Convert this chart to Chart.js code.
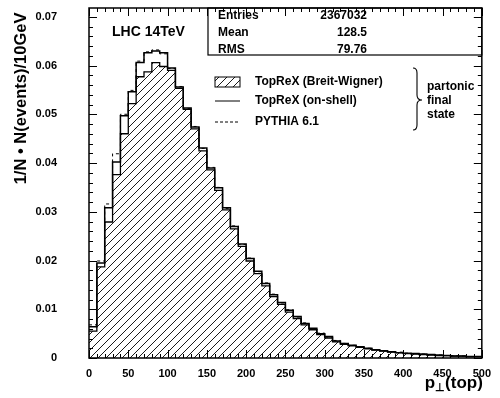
<!DOCTYPE html>
<html>
<head>
<meta charset="utf-8">
<script src="https://cdn.jsdelivr.net/npm/chart.js@4/dist/chart.umd.min.js"></script>
<style>
  html, body { margin: 0; padding: 0; background: #fff; }
  #wrap { width: 500px; height: 398px; }
</style>
</head>
<body>
<div id="wrap"><canvas id="ptChart"></canvas></div>
<script>
// lower edges of the 10 GeV bins, histogram ends at 500
const binLow = [0, 10, 20, 30, 40, 50, 60, 70, 80, 90,
  100, 110, 120, 130, 140, 150, 160, 170, 180, 190,
  200, 210, 220, 230, 240, 250, 260, 270, 280, 290,
  300, 310, 320, 330, 340, 350, 360, 370, 380, 390,
  400, 410, 420, 430, 440, 450, 460, 470, 480, 490];
const histEnd = 500;

// TopReX (Breit-Wigner), hatched
const breitWigner = [0.0055, 0.0187, 0.0279, 0.0376, 0.0460, 0.0522, 0.0577, 0.0587, 0.0606, 0.0598,
  0.0590, 0.0553, 0.0510, 0.0470, 0.0425, 0.0386, 0.0344, 0.0304, 0.0265, 0.0229,
  0.0199, 0.0173, 0.0148, 0.0126, 0.0110, 0.0094, 0.0081, 0.0068, 0.0058, 0.0048,
  0.0041, 0.0033, 0.0028, 0.0025, 0.0022, 0.0019, 0.0016, 0.0014, 0.0012, 0.0011,
  0.0009, 0.0008, 0.0007, 0.0006, 0.0005, 0.0005, 0.0004, 0.0004, 0.0003, 0.0003];

// TopReX (on-shell), solid
const onShell = [0.0064, 0.0195, 0.0308, 0.0402, 0.0497, 0.0546, 0.0606, 0.0626, 0.0630, 0.0626,
  0.0595, 0.0556, 0.0513, 0.0474, 0.0431, 0.0390, 0.0349, 0.0308, 0.0270, 0.0234,
  0.0204, 0.0178, 0.0153, 0.0130, 0.0114, 0.0098, 0.0085, 0.0071, 0.0061, 0.0050,
  0.0044, 0.0035, 0.0030, 0.0026, 0.0023, 0.0020, 0.0017, 0.0015, 0.0013, 0.0011,
  0.0010, 0.0009, 0.0008, 0.0007, 0.0006, 0.0005, 0.0004, 0.0004, 0.0003, 0.0003];

// PYTHIA 6.1, dashed
const pythia = [0.0068, 0.0199, 0.0316, 0.0419, 0.0500, 0.0549, 0.0609, 0.0628, 0.0632, 0.0624,
  0.0594, 0.0557, 0.0512, 0.0475, 0.0430, 0.0391, 0.0350, 0.0307, 0.0271, 0.0233,
  0.0205, 0.0177, 0.0154, 0.0131, 0.0113, 0.0099, 0.0084, 0.0072, 0.0060, 0.0051,
  0.0043, 0.0036, 0.0030, 0.0026, 0.0023, 0.0020, 0.0017, 0.0015, 0.0013, 0.0012,
  0.0010, 0.0009, 0.0008, 0.0007, 0.0006, 0.0005, 0.0005, 0.0004, 0.0003, 0.0003];

const xTickValues = [0, 50, 100, 150, 200, 250, 300, 350, 400, 450, 500];
const yTickValues = [0, 0.01, 0.02, 0.03, 0.04, 0.05, 0.06, 0.07];
const yTickLabels = ["0", "0.01", "0.02", "0.03", "0.04", "0.05", "0.06", "0.07"];

const statLabels = ["Entries", "Mean", "RMS"];
const statValues = ["2367032", "128.5", "79.76"];
const legendLabels = ["TopReX (Breit-Wigner)", "TopReX (on-shell)", "PYTHIA 6.1"];
const braceLabels = ["partonic", "final", "state"];

const FONT = '"Liberation Sans", Arial, sans-serif';

function steps(vals) {
  const pts = binLow.map((x, i) => ({ x: x, y: vals[i] }));
  pts.push({ x: histEnd, y: vals[vals.length - 1] });
  return pts;
}

function hatch(ctx) {
  const c = document.createElement("canvas");
  c.width = 8;
  c.height = 8;
  const g = c.getContext("2d");
  g.strokeStyle = "#000";
  g.lineWidth = 0.9;
  g.beginPath();
  g.moveTo(0, 8); g.lineTo(8, 0);
  g.moveTo(-2, 2); g.lineTo(2, -2);
  g.moveTo(6, 10); g.lineTo(10, 6);
  g.stroke();
  return ctx.createPattern(c, "repeat");
}

// frame with inside ticks, stats box, legend and labels
const decorations = {
  id: "decorations",
  afterDatasetsDraw(chart) {
    const { ctx, chartArea: a, scales: { x, y } } = chart;
    ctx.save();

    // stats box
    const bx = 208, bBottom = a.top + 47;
    ctx.fillStyle = "#fff";
    ctx.fillRect(bx, a.top, a.right - bx, bBottom - a.top);
    ctx.strokeStyle = "#000";
    ctx.lineWidth = 1.2;
    ctx.strokeRect(bx, a.top, a.right - bx, bBottom - a.top);
    ctx.fillStyle = "#000";
    ctx.font = "bold 12px " + FONT;
    ctx.textBaseline = "middle";
    statLabels.forEach((s, i) => {
      ctx.textAlign = "left";
      ctx.fillText(s, 218, a.top + 8 + i * 16.7);
      ctx.textAlign = "right";
      ctx.fillText(statValues[i], 367, a.top + 8 + i * 16.7);
    });

    // LHC label
    ctx.textAlign = "left";
    ctx.font = "bold 14px " + FONT;
    ctx.fillText("LHC 14TeV", 112, 32);

    // legend
    const lx = 215, lw = 25, rows = [82, 101, 122];
    ctx.fillStyle = hatch(ctx);
    ctx.fillRect(lx, rows[0] - 5, lw, 10);
    ctx.strokeStyle = "#000";
    ctx.lineWidth = 1;
    ctx.strokeRect(lx, rows[0] - 5, lw, 10);
    ctx.beginPath();
    ctx.moveTo(lx, rows[1]); ctx.lineTo(lx + lw, rows[1]);
    ctx.stroke();
    ctx.setLineDash([3, 2]);
    ctx.beginPath();
    ctx.moveTo(lx, rows[2]); ctx.lineTo(lx + lw, rows[2]);
    ctx.stroke();
    ctx.setLineDash([]);
    ctx.fillStyle = "#000";
    ctx.font = "bold 12px " + FONT;
    legendLabels.forEach((s, i) => ctx.fillText(s, 255, rows[i]));

    // brace
    ctx.lineWidth = 1.1;
    ctx.beginPath();
    ctx.moveTo(413, 68);
    ctx.quadraticCurveTo(417, 68, 417, 73);
    ctx.lineTo(417, 95);
    ctx.quadraticCurveTo(417, 100, 422, 100);
    ctx.quadraticCurveTo(417, 100, 417, 105);
    ctx.lineTo(417, 125);
    ctx.quadraticCurveTo(417, 130, 413, 130);
    ctx.stroke();
    braceLabels.forEach((s, i) => ctx.fillText(s, 427, 87 + i * 14));

    // x title with subscript
    ctx.textAlign = "left";
    ctx.textBaseline = "alphabetic";
    ctx.font = "bold 17px " + FONT;
    const wP = ctx.measureText("p").width;
    const wT = ctx.measureText("(top)").width;
    ctx.font = "bold 11px " + FONT;
    const wS = ctx.measureText("\u22A5").width;
    let tx = a.right + 1 - wP - wS - wT;
    ctx.font = "bold 17px " + FONT;
    ctx.fillText("p", tx, 388);
    ctx.font = "bold 11px " + FONT;
    ctx.fillText("\u22A5", tx + wP, 391);
    ctx.font = "bold 17px " + FONT;
    ctx.fillText("(top)", tx + wP + wS, 388);

    // frame
    ctx.strokeStyle = "#000";
    ctx.lineWidth = 1.5;
    ctx.strokeRect(a.left, a.top, a.right - a.left, a.bottom - a.top);
    ctx.lineWidth = 1;
    ctx.beginPath();
    for (let k = 0; k <= 50; k++) {
      const px = Math.round(x.getPixelForValue(k * 10)) + 0.5;
      const len = k % 5 === 0 ? 8 : 4;
      ctx.moveTo(px, a.bottom); ctx.lineTo(px, a.bottom - len);
      ctx.moveTo(px, a.top); ctx.lineTo(px, a.top + len);
    }
    for (let k = 0; k <= 35; k++) {
      const py = Math.round(y.getPixelForValue(k * 0.002)) + 0.5;
      const len = k % 5 === 0 ? 8 : 4;
      ctx.moveTo(a.left, py); ctx.lineTo(a.left + len, py);
      ctx.moveTo(a.right, py); ctx.lineTo(a.right - len, py);
    }
    ctx.stroke();
    ctx.restore();
  }
};

const canvas = document.getElementById("ptChart");

new Chart(canvas, {
  type: "line",
  data: {
    datasets: [
      {
        label: legendLabels[2],
        data: steps(pythia),
        borderColor: "#000",
        borderWidth: 1,
        borderDash: [3, 3],
        stepped: "before",
        fill: false,
        pointRadius: 0,
        order: 0,
      },
      {
        label: legendLabels[1],
        data: steps(onShell),
        borderColor: "#000",
        borderWidth: 1.5,
        stepped: "before",
        fill: false,
        pointRadius: 0,
        order: 1,
      },
      {
        label: legendLabels[0],
        data: steps(breitWigner),
        borderColor: "#000",
        borderWidth: 1.3,
        backgroundColor: hatch(canvas.getContext("2d")),
        stepped: "before",
        fill: "origin",
        pointRadius: 0,
        order: 2,
      },
    ],
  },
  options: {
    responsive: true,
    maintainAspectRatio: false,
    animation: false,
    layout: { padding: { top: 8, right: 13, left: 0, bottom: 0 } },
    plugins: { legend: { display: false }, tooltip: { enabled: false } },
    scales: {
      x: {
        type: "linear",
        min: 0,
        max: histEnd,
        grid: { display: false, drawTicks: false },
        border: { display: false },
        afterBuildTicks: (s) => { s.ticks = xTickValues.map((v) => ({ value: v })); },
        afterFit: (s) => { s.height = 40; },
        ticks: {
          padding: 9,
          color: "#000",
          maxRotation: 0,
          font: { family: FONT, size: 11, weight: "bold" },
        },
      },
      y: {
        type: "linear",
        min: 0,
        max: 0.0718,
        grid: { display: false, drawTicks: false },
        border: { display: false },
        afterBuildTicks: (s) => { s.ticks = yTickValues.map((v) => ({ value: v })); },
        afterFit: (s) => { s.width = 89; s.paddingTop = 0; s.paddingBottom = 0; },
        ticks: {
          padding: 32,
          color: "#000",
          font: { family: FONT, size: 11, weight: "bold" },
          callback: (v, i) => yTickLabels[i],
        },
        title: {
          display: true,
          text: "1/N \u2022 N(events)/10GeV ",
          align: "end",
          color: "#000",
          padding: { top: 12, bottom: 0 },
          font: { family: FONT, size: 16.5, weight: "bold" },
        },
      },
    },
  },
  plugins: [decorations],
});
</script>
</body>
</html>
